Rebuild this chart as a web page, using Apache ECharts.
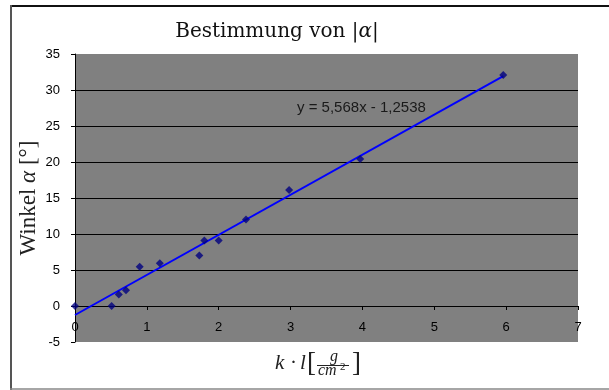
<!DOCTYPE html>
<html>
<head>
<meta charset="utf-8">
<script src="https://cdn.jsdelivr.net/npm/echarts@6/dist/echarts.min.js"></script>
<style>
  html, body { margin: 0; padding: 0; background: #fff; }
  #chart { width: 609px; height: 390px; }
</style>
</head>
<body>
<div id="chart"></div>
<script>
// Messwerte k*l [g/cm^2] und Winkel alpha [°]
var kl = [0, 0.51, 0.61, 0.71, 0.90, 1.18, 1.73, 1.80, 2.00, 2.38, 2.98, 3.97, 5.96];
var winkel = [0, 0, 1.6, 2.2, 5.45, 5.95, 7.0, 9.1, 9.1, 12.0, 16.1, 20.4, 32.1];
// Trendlinie (Endpunkte)
var trendPoints = [[0, -1.25], [5.96, 31.93]];
var trendText = 'y = 5,568x - 1,2538';
var titleText = 'Bestimmung von |{i|\u03b1}|';

var myChart = echarts.init(document.getElementById('chart'));

var messPunkte = [];
for (var i = 0; i < kl.length; i++) {
  messPunkte.push([kl[i], winkel[i]]);
}

var serif = '"Liberation Serif", "DejaVu Serif", serif';
var sans = '"Liberation Sans", Arial, sans-serif';
var gridTop = 54, gridBottom = 48, chartH = 390;
// x-Achse liegt bei y = 0 (Excel-Stil, Beschriftung unter der Linie)
var xOffset = -(chartH - gridTop - gridBottom) * 5 / 40;

var option = {
  animation: false,
  backgroundColor: '#fff',
  title: {
    text: titleText,
    left: 272,
    top: 17,
    textAlign: 'center',
    textStyle: {
      fontFamily: '"DejaVu Serif", serif',
      fontWeight: 'normal',
      fontSize: 20,
      color: '#111',
      rich: {
        i: { fontFamily: '"DejaVu Serif", serif', fontStyle: 'italic', fontSize: 20, color: '#111' }
      }
    }
  },
  grid: {
    left: 75,
    right: 31,
    top: gridTop,
    bottom: gridBottom,
    show: true,
    backgroundColor: '#808080',
    borderWidth: 0
  },
  xAxis: {
    type: 'value',
    min: 0,
    max: 7,
    interval: 1,
    offset: xOffset,
    axisLine: { onZero: false, lineStyle: { color: '#000', width: 1 } },
    axisTick: { show: true, inside: false, length: 4, lineStyle: { color: '#000' } },
    axisLabel: { color: '#000', fontFamily: sans, fontSize: 13, margin: 15 },
    splitLine: { show: false }
  },
  yAxis: {
    type: 'value',
    min: -5,
    max: 35,
    interval: 5,
    name: 'Winkel {i|\u03b1} [\u00b0]',
    nameLocation: 'middle',
    nameRotate: 90,
    nameGap: 35,
    nameMoveOverlap: false,
    nameTextStyle: {
      fontFamily: serif,
      fontSize: 23,
      color: '#222',
      rich: {
        i: { fontFamily: serif, fontStyle: 'italic', fontSize: 23, color: '#222' }
      }
    },
    axisLine: { show: true, onZero: false, lineStyle: { color: '#000', width: 1 } },
    axisTick: { show: true, inside: false, length: 4, lineStyle: { color: '#000' } },
    axisLabel: { color: '#000', fontFamily: sans, fontSize: 13, margin: 15 },
    splitLine: {
      show: true,
      showMinLine: false,
      showMaxLine: false,
      lineStyle: { color: '#000', width: 1 }
    }
  },
  series: [{
    name: 'Trend',
    type: 'line',
    data: trendPoints,
    symbol: 'none',
    lineStyle: { color: '#0000ff', width: 2 },
    z: 2,
    silent: true
  }, {
    name: 'Messung',
    type: 'scatter',
    data: messPunkte,
    symbol: 'diamond',
    symbolSize: 8,
    itemStyle: { color: '#000080' },
    z: 3
  }],
  graphic: [
    // Rahmen
    { type: 'line', shape: { x1: 10, y1: 6, x2: 609, y2: 6 }, style: { stroke: '#111', lineWidth: 2 } },
    { type: 'line', shape: { x1: 11, y1: 5, x2: 11, y2: 390 }, style: { stroke: '#555', lineWidth: 2 } },
    { type: 'line', shape: { x1: 10, y1: 389, x2: 609, y2: 389 }, style: { stroke: '#888', lineWidth: 1.5 } },
    // Gleichung der Trendlinie
    {
      type: 'text', left: 297, top: 100, z: 10,
      style: { text: trendText, fill: '#1a1a1a', font: '15px ' + sans }
    },
    // x-Achsenbeschriftung  k · l [g/cm²]
    { type: 'text', x: 275, y: 363, z: 10, style: { text: 'k', fill: '#222', font: 'italic 21px ' + serif, verticalAlign: 'middle' } },
    { type: 'text', x: 290, y: 363, z: 10, style: { text: '\u00b7', fill: '#222', font: '21px ' + serif, verticalAlign: 'middle' } },
    { type: 'text', x: 300, y: 363, z: 10, style: { text: 'l', fill: '#222', font: 'italic 21px ' + serif, verticalAlign: 'middle' } },
    { type: 'text', x: 307, y: 364, z: 10, style: { text: '[', fill: '#222', font: '27px ' + serif, verticalAlign: 'middle' } },
    { type: 'text', x: 334, y: 357, z: 10, style: { text: 'g', fill: '#222', font: 'italic 16px ' + serif, align: 'center', verticalAlign: 'middle' } },
    { type: 'line', z: 10, shape: { x1: 317, y1: 365.5, x2: 349, y2: 365.5 }, style: { stroke: '#222', lineWidth: 1 } },
    { type: 'text', x: 318, y: 371, z: 10, style: { text: 'cm', fill: '#222', font: 'italic 16px ' + serif, verticalAlign: 'middle' } },
    { type: 'text', x: 340, y: 367, z: 10, style: { text: '2', fill: '#222', font: '11px ' + serif, verticalAlign: 'middle' } },
    { type: 'text', x: 352, y: 364, z: 10, style: { text: ']', fill: '#222', font: '27px ' + serif, verticalAlign: 'middle' } }
  ]
};

myChart.setOption(option, true);
window.addEventListener('resize', function () {
  myChart.resize();
}, false);
</script>
</body>
</html>
